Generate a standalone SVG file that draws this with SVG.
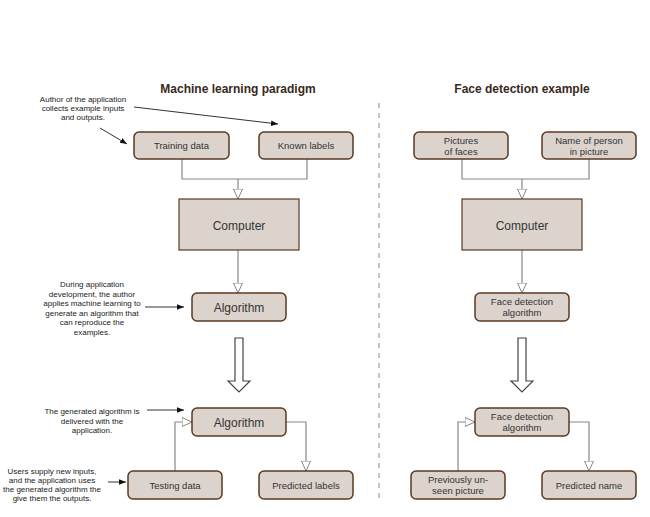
<svg xmlns="http://www.w3.org/2000/svg" width="650" height="517" viewBox="0 0 650 517">
<defs>
<style>
text{font-family:"Liberation Sans",Arial,sans-serif;fill:#333;text-anchor:middle}
.title{font-size:12px;font-weight:bold;fill:#3a2a1c}
.note{font-size:8px;fill:#222}
.lbl{font-size:9.5px}
.big{font-size:12px}
.box{fill:#dcd3cd;stroke:#5a3a22;stroke-width:1.5}
.sq{fill:#dcd3cd;stroke:#5a3a22;stroke-width:1.2}
.conn{fill:none;stroke:#888;stroke-width:1.2}
.ann{fill:none;stroke:#333;stroke-width:1}
.bigarrow{fill:#fff;stroke:#444;stroke-width:1.2}
</style>
<marker id="hollow" viewBox="0 0 10 10" refX="10" refY="5" markerWidth="10" markerHeight="10" markerUnits="userSpaceOnUse" orient="auto">
<path d="M0,0.5 L10,5 L0,9.5 Z" fill="#fff" stroke="#888" stroke-width="1"/>
</marker>
<marker id="solid" viewBox="0 0 10 10" refX="10" refY="5" markerWidth="7" markerHeight="7" markerUnits="userSpaceOnUse" orient="auto">
<path d="M0,1 L10,5 L0,9 Z" fill="#111"/>
</marker>
</defs>
<rect width="650" height="517" fill="#fff"/>

<text class="title" x="238" y="93">Machine learning paradigm</text>
<text class="title" x="522" y="93">Face detection example</text>
<line x1="379" y1="103" x2="379" y2="502" stroke="#888" stroke-width="1" stroke-dasharray="5,5"/>

<g id="annotations">
<text class="note"><tspan x="83" y="102">Author of the application</tspan><tspan x="83" y="111">collects example inputs</tspan><tspan x="83" y="120">and outputs.</tspan></text>
<text class="note"><tspan x="92" y="287">During application</tspan><tspan x="92" y="296.5">development, the author</tspan><tspan x="92" y="306">applies machine learning to</tspan><tspan x="92" y="315.5">generate an algorithm that</tspan><tspan x="92" y="325">can reproduce the</tspan><tspan x="92" y="334.5">examples.</tspan></text>
<text class="note"><tspan x="92" y="414">The generated algorithm is</tspan><tspan x="92" y="423.5">delivered with the</tspan><tspan x="92" y="433">application.</tspan></text>
<text class="note"><tspan x="52" y="474">Users supply new inputs,</tspan><tspan x="52" y="483">and the application uses</tspan><tspan x="52" y="492">the generated algorithm the</tspan><tspan x="52" y="501">give them the outputs.</tspan></text>
</g>

<g id="connectors">
<line class="ann" x1="134" y1="107" x2="278" y2="124" marker-end="url(#solid)"/>
<line class="ann" x1="100" y1="128" x2="127" y2="144" marker-end="url(#solid)"/>
<line class="ann" x1="145" y1="307" x2="184" y2="307" marker-end="url(#solid)"/>
<line class="ann" x1="147" y1="410" x2="184" y2="410" marker-end="url(#solid)"/>
<line class="ann" x1="108" y1="482" x2="126" y2="482" marker-end="url(#solid)"/>

<polyline class="conn" points="182,159 182,179 307,179 307,159"/>
<line class="conn" x1="238" y1="179" x2="238" y2="199" marker-end="url(#hollow)"/>
<line class="conn" x1="238" y1="250" x2="238" y2="293" marker-end="url(#hollow)"/>
<polyline class="conn" points="175,471 175,422 192,422" marker-end="url(#hollow)"/>
<polyline class="conn" points="286,422 306,422 306,471" marker-end="url(#hollow)"/>

<polyline class="conn" points="462,159 462,179 589,179 589,159"/>
<line class="conn" x1="522" y1="179" x2="522" y2="199" marker-end="url(#hollow)"/>
<line class="conn" x1="522" y1="250" x2="522" y2="293" marker-end="url(#hollow)"/>
<polyline class="conn" points="458,471 458,422 475,422" marker-end="url(#hollow)"/>
<polyline class="conn" points="569,422 589,422 589,471" marker-end="url(#hollow)"/>

<path class="bigarrow" d="M235,338 L243,338 L243,381 L250,381 L239,392 L228,381 L235,381 Z"/>
<path class="bigarrow" d="M518,338 L526,338 L526,381 L533,381 L522,392 L511,381 L518,381 Z"/>
</g>

<g id="training-data"><rect class="box" x="134" y="132" width="95" height="27" rx="5"/><text class="lbl" x="181.5" y="149">Training data</text></g>
<g id="known-labels"><rect class="box" x="259" y="132" width="94" height="27" rx="5"/><text class="lbl" x="306" y="149">Known labels</text></g>
<g id="computer-left"><rect class="sq" x="179" y="199" width="120" height="51"/><text class="big" x="239" y="230">Computer</text></g>
<g id="algorithm-1"><rect class="box" x="192" y="293" width="94" height="28" rx="5"/><text class="big" x="239" y="311.5">Algorithm</text></g>
<g id="algorithm-2"><rect class="box" x="192" y="408" width="94" height="28" rx="5"/><text class="big" x="239" y="426.5">Algorithm</text></g>
<g id="testing-data"><rect class="box" x="128" y="471" width="94" height="28" rx="5"/><text class="lbl" x="175" y="488.5">Testing data</text></g>
<g id="predicted-labels"><rect class="box" x="259" y="471" width="94" height="28" rx="5"/><text class="lbl" x="306" y="488.5">Predicted labels</text></g>

<g id="pictures-of-faces"><rect class="box" x="414" y="132" width="94" height="27" rx="5"/><text class="lbl"><tspan x="461" y="144">Pictures</tspan><tspan x="461" y="155">of faces</tspan></text></g>
<g id="name-of-person"><rect class="box" x="542" y="132" width="94" height="27" rx="5"/><text class="lbl"><tspan x="589" y="144">Name of person</tspan><tspan x="589" y="155">in picture</tspan></text></g>
<g id="computer-right"><rect class="sq" x="462" y="199" width="120" height="51"/><text class="big" x="522" y="230">Computer</text></g>
<g id="face-algorithm-1"><rect class="box" x="475" y="293" width="94" height="28" rx="5"/><text class="lbl"><tspan x="522" y="305">Face detection</tspan><tspan x="522" y="316">algorithm</tspan></text></g>
<g id="face-algorithm-2"><rect class="box" x="475" y="408" width="94" height="28" rx="5"/><text class="lbl"><tspan x="522" y="420">Face detection</tspan><tspan x="522" y="431">algorithm</tspan></text></g>
<g id="unseen-picture"><rect class="box" x="411" y="471" width="94" height="28" rx="5"/><text class="lbl"><tspan x="458" y="483">Previously un-</tspan><tspan x="458" y="494">seen picture</tspan></text></g>
<g id="predicted-name"><rect class="box" x="542" y="471" width="94" height="28" rx="5"/><text class="lbl" x="589" y="488.5">Predicted name</text></g>
</svg>
